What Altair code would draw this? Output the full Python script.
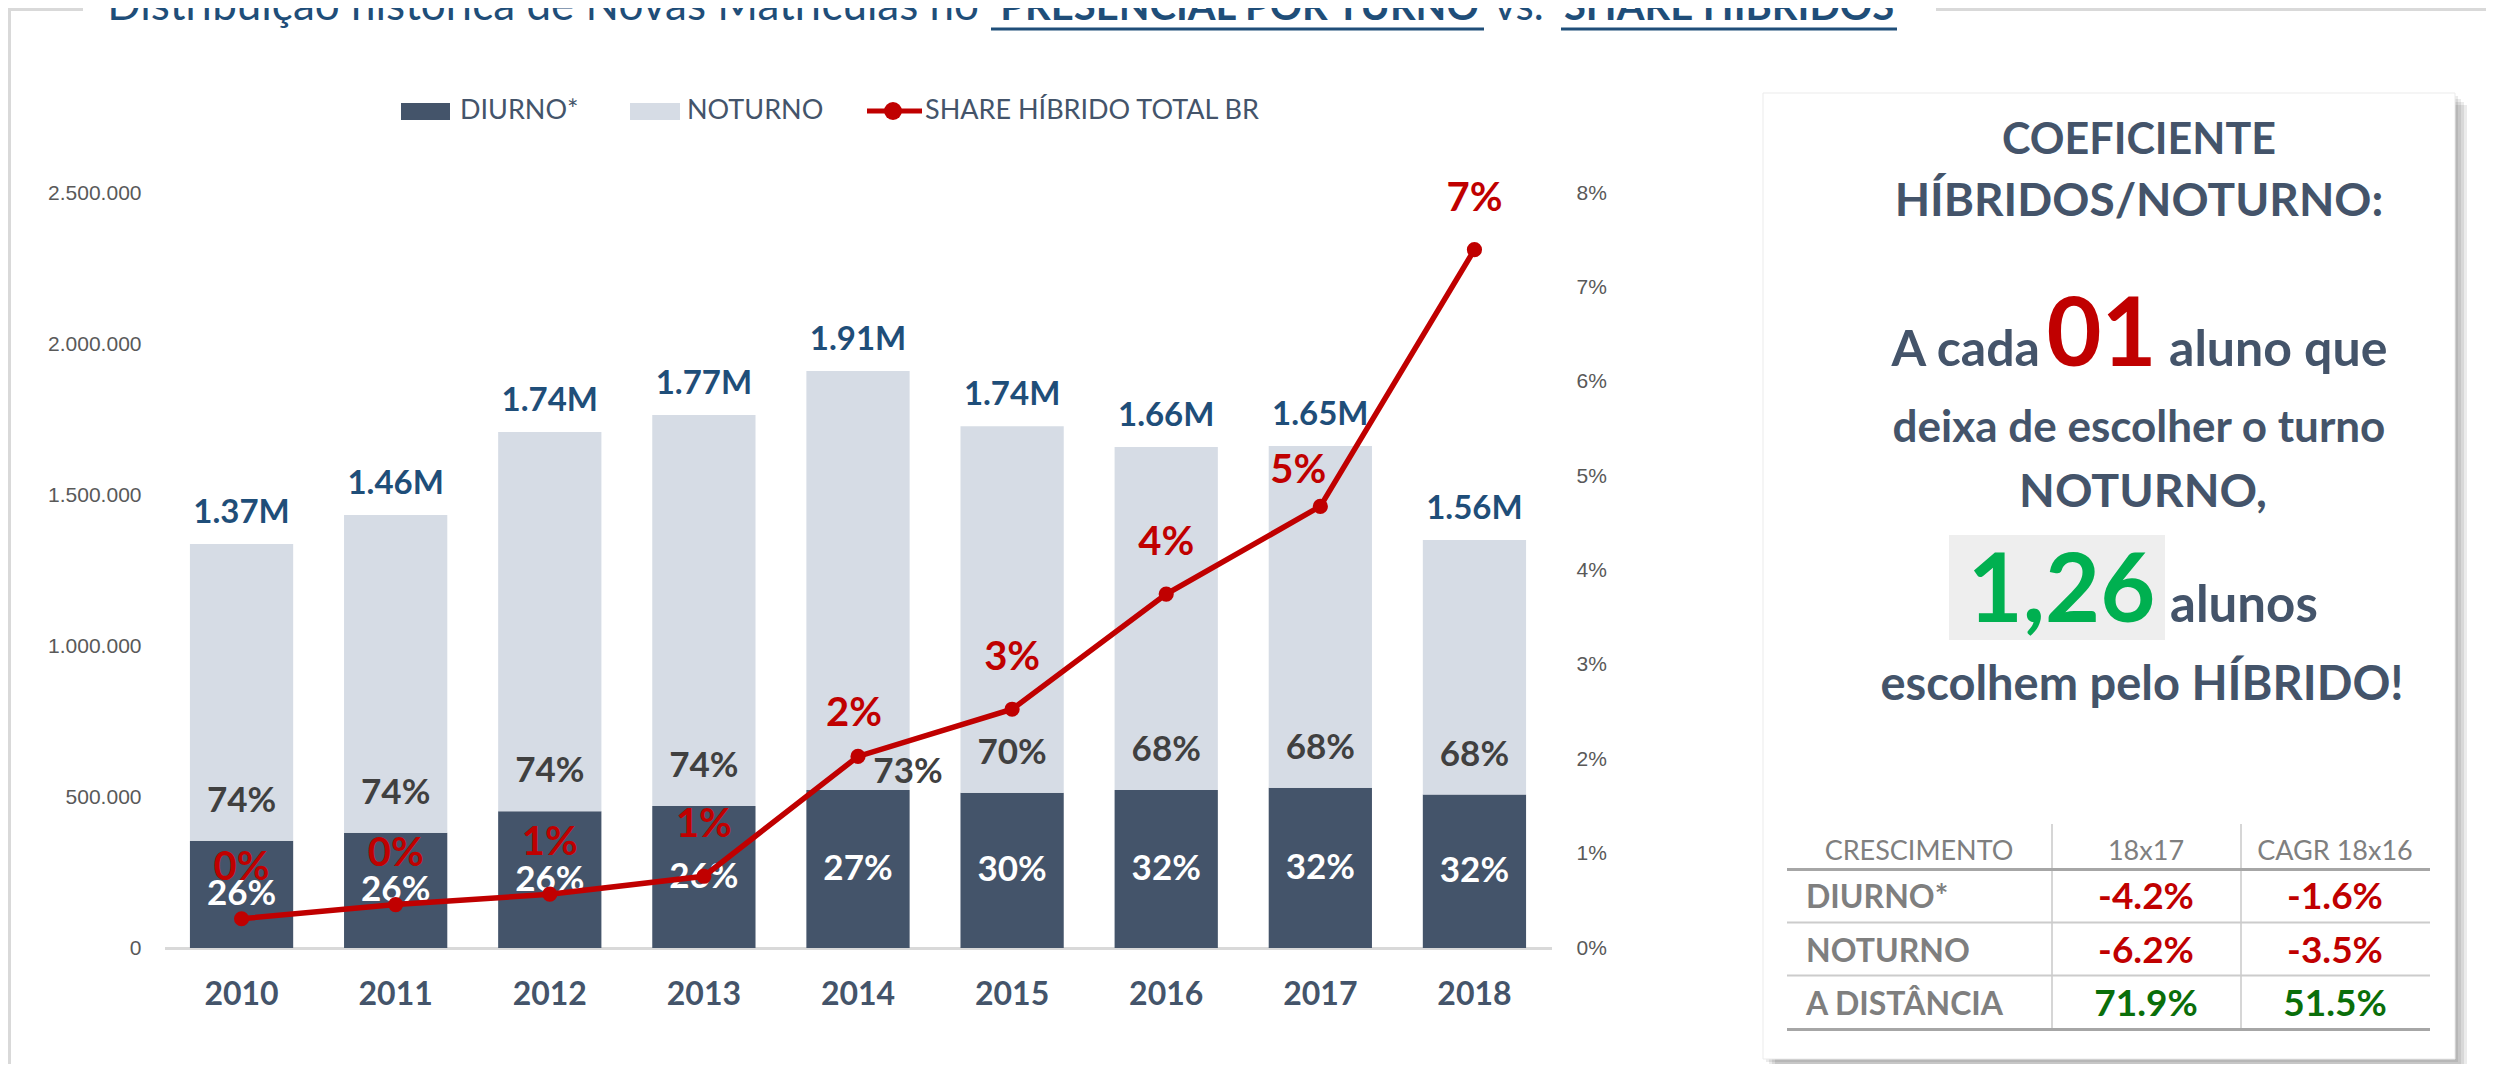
import altair as alt
import pandas as pd

# ---------------- data ----------------
years = ["2010", "2011", "2012", "2013", "2014", "2015", "2016", "2017", "2018"]
diurno = [355000, 382000, 453000, 470000, 523000, 514000, 523000, 531000, 508000]
noturno = [983000, 1052000, 1256000, 1295000, 1388000, 1214000, 1136000, 1131000, 843000]
share = [0.31, 0.46, 0.57, 0.76, 2.03, 2.53, 3.75, 4.68, 7.40]
total_labels = ["1.37M", "1.46M", "1.74M", "1.77M", "1.91M", "1.74M", "1.66M", "1.65M", "1.56M"]
diurno_pct = ["26%", "26%", "26%", "26%", "27%", "30%", "32%", "32%", "32%"]
noturno_pct = ["74%", "74%", "74%", "74%", "73%", "70%", "68%", "68%", "68%"]
share_labels = ["0%", "0%", "1%", "1%", "2%", "3%", "4%", "5%", "7%"]
left_ticks = [0, 500000, 1000000, 1500000, 2000000, 2500000]
right_ticks = [0, 1, 2, 3, 4, 5, 6, 7, 8]

legend_labels = ["DIURNO*", "NOTURNO", "SHARE HÍBRIDO TOTAL BR"]
title_parts = ["Distribuição histórica de Novas Matrículas no", "PRESENCIAL POR TURNO", "vs.", "SHARE HÍBRIDOS"]
panel_title = ["COEFICIENTE", "HÍBRIDOS/NOTURNO:"]
panel_line3 = ["A cada", "01", "aluno que"]
panel_line4 = "deixa de escolher o turno"
panel_line5 = "NOTURNO,"
panel_line6 = ["1,26", "alunos"]
panel_line7 = "escolhem pelo HÍBRIDO!"
table_header = ["CRESCIMENTO", "18x17", "CAGR 18x16"]
table_rows = ["DIURNO*", "NOTURNO", "A DISTÂNCIA"]
growth_18x17 = ["-4.2%", "-6.2%", "71.9%"]
cagr_18x16 = ["-1.6%", "-3.5%", "51.5%"]

# ---------------- styles ----------------
FONT = "Lato"
AXFONT = "Liberation Sans"
W = 2478
H = 940          # plot area ends at the category axis baseline
PAD_BOTTOM = 116  # room below for year labels, panel and table
FULL_H = H + PAD_BOTTOM
DARK = "#44546A"
LIGHT = "#D6DCE5"
RED = "#C00000"
NAVY = "#1F4E79"
GREEN = "#00B050"
DKGREEN = "#0A6E0A"
GRAY = "#7F7F7F"
AXGRAY = "#595959"
FRAME = "#D9D9D9"

df = pd.DataFrame({
    "year": years, "diurno": diurno, "noturno": noturno, "share": share,
    "total_label": total_labels, "diurno_pct": diurno_pct,
    "noturno_pct": noturno_pct, "share_label": share_labels,
})
base = alt.Chart(df).transform_calculate(
    total="datum.diurno + datum.noturno", diurno_mid="datum.diurno / 2"
)

x_scale = alt.Scale(domain=years, range=[156.5, 1543.5], paddingInner=0.33, paddingOuter=0.165)
x_axis = alt.Axis(orient="bottom", title=None, domain=True, domainColor=FRAME,
                  domainWidth=3, ticks=False, tickSize=0, labelPadding=46, labelBaseline="middle",
                  labelFont=FONT, labelFontSize=32, labelFontWeight="bold", labelColor=DARK,
                  labelAngle=0, grid=False)
# every layer that shares the x scale carries the same axis definition
X = alt.X("year:N", scale=x_scale, axis=x_axis)


def lscale():
    return alt.Scale(domain=[0, 2500000], range=[940, 185], nice=False, zero=True)


def rscale():
    return alt.Scale(domain=[0, 8], range=[940, 185], nice=False, zero=True)


left_axis = alt.Axis(orient="left", offset=-133, values=left_ticks,
                     labelExpr="replace(format(datum.value, ','), regexp(',', 'g'), '.')",
                     domain=False, ticks=False, tickSize=0, labelPadding=0, grid=False, title=None,
                     labelFont=AXFONT, labelFontSize=21, labelColor=AXGRAY)
right_axis = alt.Axis(orient="right", offset=1568 - W, values=right_ticks,
                      labelExpr="datum.value + '%'", domain=False, ticks=False, tickSize=0,
                      labelPadding=0, grid=False, title=None, labelFont=AXFONT, labelFontSize=21,
                      labelColor=AXGRAY, labelAlign="left")

bar_d = base.mark_bar(color=DARK).encode(x=X, y=alt.Y("diurno:Q", scale=lscale(), axis=left_axis))
bar_n = base.mark_bar(color=LIGHT).encode(x=X, y=alt.Y("diurno:Q", scale=lscale(), axis=None), y2="total:Q")

t_total = base.mark_text(font=FONT, fontSize=33, fontWeight="bold", color=NAVY, dy=-31,
                         baseline="middle").encode(
    x=X, y=alt.Y("total:Q", scale=lscale(), axis=None), text="total_label:N")
t_not = base.transform_filter("datum.year != '2014'").mark_text(
    font=FONT, fontSize=35, fontWeight="bold", color="#404040", dy=-40, baseline="middle").encode(
    x=X, y=alt.Y("diurno:Q", scale=lscale(), axis=None), text="noturno_pct:N")
t_not14 = base.transform_filter("datum.year == '2014'").mark_text(
    font=FONT, fontSize=35, fontWeight="bold", color="#404040", dx=50, dy=-18, baseline="middle").encode(
    x=X, y=alt.Y("diurno:Q", scale=lscale(), axis=None), text="noturno_pct:N")
t_diu = base.mark_text(font=FONT, fontSize=35, fontWeight="bold", color="white",
                       baseline="middle").encode(
    x=X, y=alt.Y("diurno_mid:Q", scale=lscale(), axis=None), text="diurno_pct:N")

line = base.mark_line(color=RED, strokeWidth=5.5).encode(
    x=X, y=alt.Y("share:Q", scale=rscale(), axis=right_axis))
pts = base.mark_circle(size=230, color=RED, opacity=1).encode(
    x=X, y=alt.Y("share:Q", scale=rscale(), axis=None))
t_share = base.transform_filter("datum.year != '2017' && datum.year != '2014'").mark_text(
    font=FONT, fontSize=40, fontWeight="bold", color=RED, dy=-51, baseline="middle").encode(
    x=X, y=alt.Y("share:Q", scale=rscale(), axis=None), text="share_label:N")
t_share14 = base.transform_filter("datum.year == '2014'").mark_text(
    font=FONT, fontSize=40, fontWeight="bold", color=RED, dx=-4, dy=-42, baseline="middle").encode(
    x=X, y=alt.Y("share:Q", scale=rscale(), axis=None), text="share_label:N")
t_share17 = base.transform_filter("datum.year == '2017'").mark_text(
    font=FONT, fontSize=40, fontWeight="bold", color=RED, dx=-22, dy=-35, baseline="middle").encode(
    x=X, y=alt.Y("share:Q", scale=rscale(), axis=None), text="share_label:N")

# ---------------- helpers for annotations ----------------
DUMMY = pd.DataFrame({"d": [0]})


def rect(x1, x2, y1, y2, fill, opacity=1.0, stroke=None, sw=1):
    kw = dict(fill=fill, opacity=opacity)
    if stroke:
        kw.update(stroke=stroke, strokeWidth=sw)
    return alt.Chart(DUMMY).mark_rect(**kw).encode(
        x=alt.value(x1), x2=alt.value(x2), y=alt.value(y1), y2=alt.value(y2))


def hline(x1, x2, y, color, width):
    return alt.Chart(DUMMY).mark_rule(color=color, strokeWidth=width).encode(
        x=alt.value(x1), x2=alt.value(x2), y=alt.value(y))


def vline(x, y1, y2, color, width):
    return alt.Chart(DUMMY).mark_rule(color=color, strokeWidth=width).encode(
        x=alt.value(x), y=alt.value(y1), y2=alt.value(y2))


def text(t, x, y, size, color, weight="normal", align="center", baseline="alphabetic", font=FONT):
    return alt.Chart(pd.DataFrame({"t": [t]})).mark_text(
        align=align, baseline=baseline, fontSize=size, font=font, fontWeight=weight, color=color
    ).encode(x=alt.value(x), y=alt.value(y), text="t:N")


layers = []
# frame
layers += [vline(1.5, 0, FULL_H, FRAME, 3), hline(0, 75, 1.5, FRAME, 3), hline(1928, W, 1.5, FRAME, 3)]
# title
layers += [
    text(title_parts[0], 971, 12, 44, NAVY, align="right"),
    text(title_parts[1], 1231.5, 12, 40, NAVY, weight="bold"),
    text(title_parts[2], 1511, 12, 42, NAVY),
    text(title_parts[3], 1721, 12, 40, NAVY, weight="bold"),
    hline(983, 1476, 21, NAVY, 3),
    hline(1553, 1889, 21, NAVY, 3),
]
# legend
layers += [
    rect(393, 442, 95, 112, DARK),
    text(legend_labels[0], 452, 103, 27, DARK, align="left", baseline="middle"),
    rect(622, 672, 95, 112, LIGHT),
    text(legend_labels[1], 679, 103, 27, DARK, align="left", baseline="middle"),
    hline(859, 914, 103, RED, 5),
    alt.Chart(DUMMY).mark_circle(size=320, color=RED, opacity=1).encode(x=alt.value(885), y=alt.value(103)),
    text(legend_labels[2], 917, 103, 27, DARK, align="left", baseline="middle"),
]
# main chart
layers += [bar_d, bar_n, t_not, t_not14, t_diu, t_total, line, pts, t_share, t_share14, t_share17]

# panel
for k in [3, 6, 9, 12]:
    layers.append(rect(1755 + k, 2447 + k, 85 + k, 1051 + k, "#000000", opacity=0.08))
layers.append(rect(1755, 2447, 85, 1051, "white", stroke="#EBEBEB", sw=1))
PX = 2131
layers += [
    text(panel_title[0], PX, 146, 43, DARK, weight="bold"),
    text(panel_title[1], PX, 208, 46, DARK, weight="bold"),
    text(panel_line3[0], 2032, 358, 50, DARK, weight="bold", align="right"),
    text(panel_line3[1], 2093.5, 358, 95, RED, weight="bold"),
    text(panel_line3[2], 2161, 358, 50, DARK, weight="bold", align="left"),
    text(panel_line4, PX, 434, 44, DARK, weight="bold"),
    text(panel_line5, 2135, 499, 46.5, DARK, weight="bold"),
    rect(1941, 2157, 527, 632, "#EEEEEE"),
    text(panel_line6[0], 2053.5, 614, 95, GREEN, weight="bold"),
    text(panel_line6[1], 2162, 614, 51, DARK, weight="bold", align="left"),
    text(panel_line7, 2134, 692, 47, DARK, weight="bold"),
]
# table
COLX = [1911, 2138, 2327]
layers += [
    vline(2044, 816, 1021, "#C8C8C8", 1.5),
    vline(2233, 816, 1021, "#C8C8C8", 1.5),
    hline(1779, 2422, 861.5, "#A6A6A6", 3),
    hline(1779, 2422, 914.5, "#CCCCCC", 2),
    hline(1779, 2422, 967.5, "#CCCCCC", 2),
    hline(1779, 2422, 1021.5, "#A6A6A6", 3),
]
for i, h in enumerate(table_header):
    layers.append(text(h, COLX[i], 852, 27, GRAY))
ROWY = [900, 954, 1007]
for i, r in enumerate(table_rows):
    layers.append(text(r, 1798, ROWY[i], 32, GRAY, weight="bold", align="left"))
    for j, v in enumerate([growth_18x17[i], cagr_18x16[i]]):
        col = RED if v.startswith("-") else DKGREEN
        layers.append(text(v, COLX[j + 1], ROWY[i] + 1, 37, col, weight="bold"))

chart = alt.layer(*layers).resolve_scale(y="independent").properties(
    width=W, height=H, autosize=alt.AutoSizeParams(type="none"),
    padding={"left": 0, "top": 0, "right": 0, "bottom": PAD_BOTTOM}, background="white"
).configure_view(stroke=None)

chart.save("out.html", embed_options={"renderer": "svg", "actions": False})
